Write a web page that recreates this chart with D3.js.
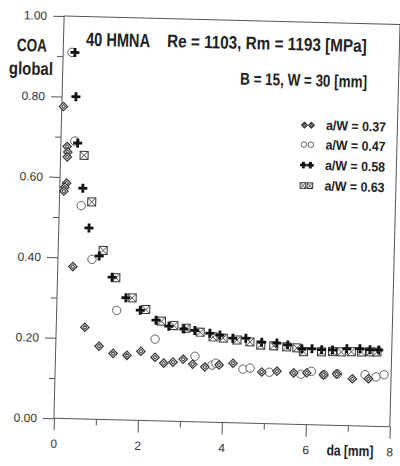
<!DOCTYPE html>
<html>
<head>
<meta charset="utf-8">
<script src="https://cdn.jsdelivr.net/npm/d3@7"></script>
<style>
  body { margin: 0; background: #fff; }
  .axis text { font: 12px "Liberation Sans", Arial, sans-serif; fill: #333; }
  .axis line { stroke: #555; }
  .lbl { font-family: "Liberation Sans Narrow", "Arial Narrow", "Liberation Sans", sans-serif; font-weight: bold; fill: #222; }
</style>
</head>
<body>
<svg width="400" height="466"></svg>
<script>
// da [mm] , COA global
var aw37 = [[0.04,0.775],[0.15,0.676],[0.17,0.662],[0.16,0.650],[0.16,0.585],[0.12,0.575],[0.10,0.565],
  [0.36,0.378],[0.68,0.228],[1.03,0.182],[1.37,0.165],[1.70,0.161],[2.03,0.172],[2.37,0.158],
  [2.58,0.144],[2.80,0.147],[3.04,0.155],[3.27,0.143],[3.56,0.137],[3.90,0.143],[4.23,0.148],
  [4.92,0.128],[5.28,0.131],[5.68,0.128],[5.99,0.129],[6.39,0.125],[6.70,0.128],[7.08,0.117],[7.46,0.118]];
var aw47 = [[0.21,0.910],[0.33,0.690],[0.52,0.530],[0.81,0.397],[1.43,0.272],[2.36,0.203],[3.32,0.163],
  [3.73,0.142],[3.82,0.147],[4.47,0.134],[4.64,0.137],[5.10,0.128],[5.85,0.125],[6.10,0.133],
  [6.40,0.125],[6.72,0.128],[7.38,0.128],[7.64,0.123],[7.83,0.129]];
var aw58 = [[0.28,0.910],[0.33,0.800],[0.40,0.685],[0.55,0.573],[0.72,0.475],[0.98,0.406],[1.30,0.354],
  [1.64,0.304],[1.99,0.274],[2.37,0.250],[2.68,0.236],[3.04,0.230],[3.30,0.227],[3.66,0.221],
  [3.90,0.217],[4.21,0.210],[4.52,0.211],[4.90,0.202],[5.26,0.201],[5.52,0.197],[5.86,0.188],
  [6.10,0.189],[6.33,0.187],[6.59,0.187],[6.93,0.191],[7.24,0.192],[7.48,0.190],[7.69,0.190]];
var aw63 = [[0.56,0.655],[0.77,0.540],[1.07,0.420],[1.39,0.353],[1.79,0.304],[2.12,0.276],[2.50,0.248],
  [2.80,0.238],[3.09,0.232],[3.43,0.223],[3.74,0.212],[3.98,0.210],[4.31,0.206],[4.62,0.202],
  [4.88,0.195],[5.19,0.194],[5.50,0.192],[5.74,0.190],[5.90,0.181],[6.33,0.182],[6.59,0.183],
  [6.80,0.183],[7.04,0.184],[7.28,0.184],[7.49,0.185],[7.65,0.185]];

var yMajor = [0, 0.2, 0.4, 0.6, 0.8, 1.0],
    yMinor = [0.1, 0.3, 0.5, 0.7, 0.9],
    xMajor = [0, 2, 4, 6, 8],
    xMinor = [1, 3, 5, 7];

var legendRows = [
  {name: "a/W = 0.37", type: "diamond"},
  {name: "a/W = 0.47", type: "circle"},
  {name: "a/W = 0.58", type: "plus"},
  {name: "a/W = 0.63", type: "square"}
];

var svg = d3.select("svg"),
  margin = {top: 20, right: 5, bottom: 43.5, left: 59},
  width = 400 - margin.left - margin.right,
  height = 466 - margin.top - margin.bottom;

svg.append("rect").attr("width", 400).attr("height", 466).attr("fill", "#fff");

// the scan is slightly tilted, so is everything here
var root = svg.append("g").attr("transform", "rotate(1.45,222,220)");
var g = root.append("g").attr("transform", "translate(" + margin.left + "," + margin.top + ")");

var x = d3.scaleLinear().domain([0, 8]).range([0, width]),
    y = d3.scaleLinear().domain([0, 1]).range([height, 0]);

g.append("g").attr("class", "axis")
  .call(d3.axisLeft(y).tickValues(yMajor).tickSize(11).tickPadding(6).tickFormat(d3.format(".2f")));
g.append("g").attr("class", "axis")
  .call(d3.axisLeft(y).tickValues(yMinor).tickSize(6).tickFormat(""));
g.append("g").attr("class", "axis").attr("transform", "translate(0," + height + ")")
  .call(d3.axisBottom(x).tickValues(xMajor).tickSize(12).tickPadding(9).tickFormat(d3.format("d")));
g.append("g").attr("class", "axis").attr("transform", "translate(0," + height + ")")
  .call(d3.axisBottom(x).tickValues(xMinor).tickSize(6).tickFormat(""));
g.selectAll(".axis .domain").remove();

g.append("rect").attr("width", width).attr("height", height)
  .attr("fill", "none").attr("stroke", "#555").attr("stroke-width", 1);

function marker(sel, type, s) {
  if (type == "diamond") {
    sel.append("path").attr("d", "M0," + (-s) + "L" + s + ",0L0," + s + "L" + (-s) + ",0Z")
      .attr("fill", "#fff").attr("stroke", "#333").attr("stroke-width", 1.2);
    var t = s * 0.45;
    sel.append("path").attr("d", "M0," + (-t) + "L" + t + ",0L0," + t + "L" + (-t) + ",0Z")
      .attr("fill", "none").attr("stroke", "#444").attr("stroke-width", 1);
  } else if (type == "circle") {
    sel.append("circle").attr("r", s).attr("fill", "#fff").attr("stroke", "#555").attr("stroke-width", 0.9);
  } else if (type == "square") {
    sel.append("rect").attr("x", -s).attr("y", -s).attr("width", 2 * s).attr("height", 2 * s)
      .attr("fill", "#fff").attr("stroke", "#333").attr("stroke-width", 1);
    sel.append("path").attr("d", "M" + (-s) + "," + (-s) + "L" + s + "," + s + "M" + s + "," + (-s) + "L" + (-s) + "," + s)
      .attr("stroke", "#444").attr("stroke-width", 0.9);
  } else {
    sel.append("path").attr("d", "M" + (-s) + ",0H" + s + "M0," + (-s) + "V" + s)
      .attr("stroke", "#111").attr("stroke-width", 2.8);
  }
}

var series = [
  {data: aw47, type: "circle", s: 4.2},
  {data: aw37, type: "diamond", s: 4.2},
  {data: aw63, type: "square", s: 4},
  {data: aw58, type: "plus", s: 4.5}
];

series.forEach(function (sr) {
  g.append("g").selectAll("g")
    .data(sr.data)
    .enter().append("g")
    .attr("transform", function (d) { return "translate(" + x(d[0]) + "," + y(d[1]) + ")"; })
    .each(function () { marker(d3.select(this), sr.type, sr.s); });
});

// bold narrow label: squeeze horizontally to the width seen in the scan
function label(parent, str, px, py, size, w, anchor) {
  var t = parent.append("text").attr("class", "lbl").style("font-size", size + "px").text(str);
  var k = Math.min(1, w / t.node().getComputedTextLength());
  var x0 = anchor == "middle" ? px - w / 2 : px;
  t.attr("transform", "translate(" + x0 + "," + py + ") scale(" + k + ",1)");
  return t;
}

label(root, "COA", 27.6, 56.3, 18, 30, "middle");
label(root, "global", 27.2, 79.5, 18, 44, "middle");
label(root, "40 HMNA", 81.6, 49.2, 19, 64);
label(root, "Re = 1103,  Rm = 1193 [MPa]", 162.6, 48.5, 18, 200);
label(root, "B = 15, W = 30 [mm]", 236.6, 84, 17, 127);
label(root, "da [mm]", 355.8, 452.5, 15, 47, "middle");

// legend
var legend = root.append("g").selectAll("g")
  .data(legendRows)
  .enter().append("g")
  .attr("transform", function (d, i) { return "translate(0," + [127.5, 147, 167.5, 188][i] + ")"; });

legend.each(function (d) {
  var row = d3.select(this);
  [302, 309].forEach(function (mx) {
    marker(row.append("g").attr("transform", "translate(" + mx + ",-4.5)"), d.type, d.type == "plus" ? 3.3 : 2.8);
  });
  label(row, d.name, 323.7, 0, 13.5, 60);
});
</script>
</body>
</html>
